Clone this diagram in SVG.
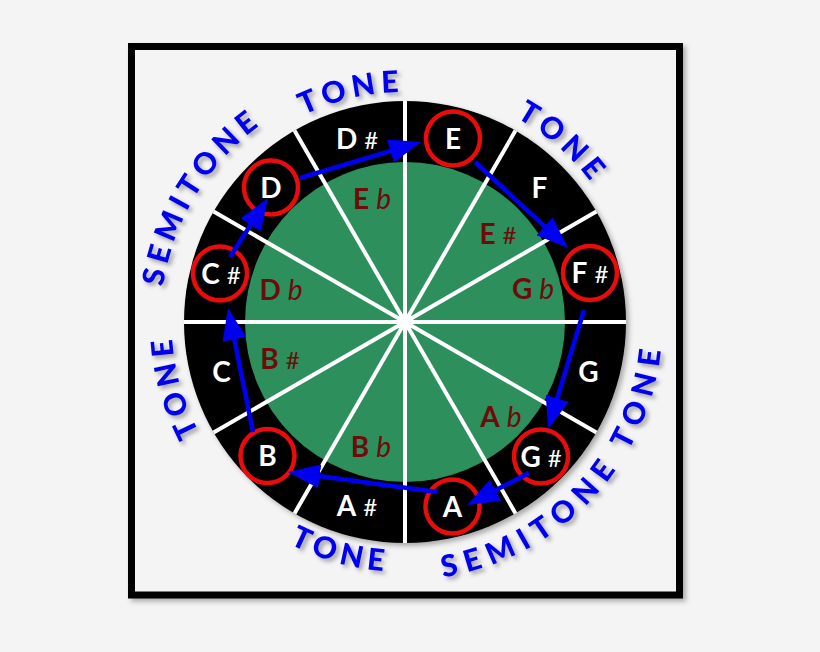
<svg xmlns="http://www.w3.org/2000/svg" width="820" height="652" viewBox="0 0 820 652">
<defs>
<filter id="sh" x="-20%" y="-20%" width="140%" height="140%">
<feDropShadow dx="3" dy="3" stdDeviation="2" flood-color="#000" flood-opacity="0.35"/>
</filter>
<filter id="sh2" x="-10%" y="-10%" width="120%" height="120%">
<feDropShadow dx="3" dy="3" stdDeviation="2.5" flood-color="#000" flood-opacity="0.3"/>
</filter>
<marker id="ah" markerUnits="userSpaceOnUse" markerWidth="32" markerHeight="24" refX="20" refY="12" orient="auto">
<path d="M0,0 L32,12 L0,24 z" fill="#0000f0"/>
</marker>
<path id="p1" d="M176.2,294 A230,230 0 0 1 597.4,196.7"/>
<path id="p2" d="M213.5,473.9 A244,244 0 0 1 453.2,82.9"/>
<path id="p3" d="M293,117.4 A233,233 0 0 1 621.4,407"/>
<path id="p4" d="M386.6,554.3 A233,233 0 0 1 268.9,132.5"/>
<path id="p5" d="M155.3,341.6 A250,250 0 0 0 608,467.2"/>
<path id="p6" d="M264,538.4 A258,258 0 0 0 610.5,166.7"/>
</defs>
<style>
.n{font-family:Lato,"Open Sans",sans-serif;font-size:28px;font-weight:bold;fill:#fff;text-anchor:middle}
.s{font-weight:normal;font-size:24px}
.f{font-family:Lato,"Open Sans",sans-serif;font-size:28px;font-weight:bold;fill:#6e0b0b;text-anchor:middle}
.fl{font-weight:normal;font-style:italic}
.iv{font-family:Lato,"Open Sans",sans-serif;font-size:30px;font-weight:900;fill:#0606ee;letter-spacing:5.5px;text-anchor:middle}
.wide{letter-spacing:8px}
.rc{fill:none;stroke:#e80c0c;stroke-width:4.5}
.ar{fill:none;stroke:#0000f0;stroke-width:4.5;marker-end:url(#ah)}
.rl{stroke:#fff;stroke-width:4}
</style>
<rect width="820" height="652" fill="#f4f4f4"/>
<rect x="131.5" y="46.5" width="548" height="548.5" fill="#f4f4f4" stroke="#000" stroke-width="7" filter="url(#sh2)"/>
<g id="wheel">
<circle cx="405" cy="322" r="221" fill="#000" filter="url(#sh2)"/>
<circle cx="405" cy="322" r="160" fill="#2c8f5c"/>
<line class="rl" x1="405" y1="101" x2="405" y2="543"/>
<line class="rl" x1="515.5" y1="130.6" x2="294.5" y2="513.4"/>
<line class="rl" x1="596.4" y1="211.5" x2="213.6" y2="432.5"/>
<line class="rl" x1="626" y1="322" x2="184" y2="322"/>
<line class="rl" x1="596.4" y1="432.5" x2="213.6" y2="211.5"/>
<line class="rl" x1="515.5" y1="513.4" x2="294.5" y2="130.6"/>
<circle cx="405" cy="322" r="8" fill="#fff"/>
</g>
<g id="note-E"><circle class="rc" cx="453" cy="138.5" r="27"/><text class="n" x="453" y="148.5">E</text></g>
<g id="note-F"><text class="n" x="539.4" y="197.5">F</text></g>
<g id="note-Fs"><circle class="rc" cx="590" cy="273" r="27"/><text class="n" x="590" y="283">F<tspan class="s" dx="7">#</tspan></text></g>
<g id="note-G"><text class="n" x="588.5" y="382">G</text></g>
<g id="note-Gs"><circle class="rc" cx="541" cy="456.5" r="27"/><text class="n" x="541" y="466.5">G<tspan class="s" dx="7">#</tspan></text></g>
<g id="note-A"><circle class="rc" cx="452.5" cy="506.5" r="27"/><text class="n" x="452.5" y="516.5">A</text></g>
<g id="note-As"><text class="n" x="357" y="516">A<tspan class="s" dx="7">#</tspan></text></g>
<g id="note-B"><circle class="rc" cx="267.5" cy="456" r="27"/><text class="n" x="267.5" y="466">B</text></g>
<g id="note-C"><text class="n" x="221.5" y="382">C</text></g>
<g id="note-Cs"><circle class="rc" cx="220" cy="273.5" r="27"/><text class="n" x="221" y="283.5">C<tspan class="s" dx="7">#</tspan></text></g>
<g id="note-D"><circle class="rc" cx="271" cy="187.5" r="27"/><text class="n" x="271" y="197.5">D</text></g>
<g id="note-Ds"><text class="n" x="357" y="149">D<tspan class="s" dx="7">#</tspan></text></g>
<g id="enh-Eb"><text class="f" x="372" y="209">E<tspan class="fl" dx="7">b</tspan></text></g>
<g id="enh-Es"><text class="f" x="498" y="244">E<tspan class="s" dx="7">#</tspan></text></g>
<g id="enh-Gb"><text class="f" x="533" y="299">G<tspan class="fl" dx="7">b</tspan></text></g>
<g id="enh-Ab"><text class="f" x="501" y="427">A<tspan class="fl" dx="7">b</tspan></text></g>
<g id="enh-Bb"><text class="f" x="371" y="457">B<tspan class="fl" dx="7">b</tspan></text></g>
<g id="enh-Bs"><text class="f" x="280" y="369">B<tspan class="s" dx="7">#</tspan></text></g>
<g id="enh-Db"><text class="f" x="281" y="300">D<tspan class="fl" dx="7">b</tspan></text></g>
<g id="connectors">
<line class="ar" x1="300" y1="178" x2="409.5" y2="145.4"/>
<line class="ar" x1="475" y1="162" x2="559.2" y2="239.9"/>
<line class="ar" x1="584" y1="310" x2="551.5" y2="417.5"/>
<line class="ar" x1="529" y1="473" x2="477.7" y2="499.5"/>
<line class="ar" x1="437" y1="492" x2="299.9" y2="473.6"/>
<line class="ar" x1="253" y1="432" x2="230.4" y2="319.8"/>
<line class="ar" x1="230" y1="257" x2="261.5" y2="208.1"/>
</g>
<g id="intervals" filter="url(#sh)">
<text class="iv"><textPath href="#p1" startOffset="50%">TONE</textPath></text>
<text class="iv"><textPath href="#p2" startOffset="50%">SEMITONE</textPath></text>
<text class="iv"><textPath href="#p3" startOffset="50%">TONE</textPath></text>
<text class="iv"><textPath href="#p4" startOffset="50%">TONE</textPath></text>
<text class="iv"><textPath href="#p5" startOffset="50%">TONE</textPath></text>
<text class="iv wide"><textPath href="#p6" startOffset="50%">SEMITONE  TONE</textPath></text>
</g>
</svg>
